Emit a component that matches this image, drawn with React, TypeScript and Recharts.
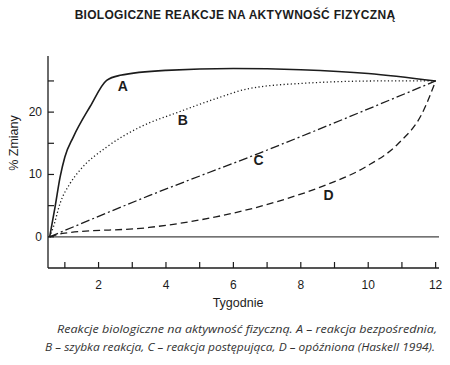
import React from "react";
import { LineChart, Line, XAxis, YAxis, ReferenceLine, ReferenceDot } from "recharts";

const weekTicks = [1, 2, 3, 4, 5, 6, 7, 8, 9, 10, 11, 12];
const weekLabels = [2, 4, 6, 8, 10, 12];
const pctTicks = [0, 5, 10, 15, 20, 25];
const pctLabels = [0, 10, 20];

// A – reakcja bezpośrednia
const curveA = [
  { week: 0.55, pct: 0 },
  { week: 0.71, pct: 4.8 },
  { week: 0.86, pct: 9.6 },
  { week: 1.0, pct: 12.8 },
  { week: 1.25, pct: 16 },
  { week: 1.75, pct: 20.9 },
  { week: 2.24, pct: 25.1 },
  { week: 2.64, pct: 25.9 },
  { week: 4, pct: 26.7 },
  { week: 6, pct: 27 },
  { week: 8, pct: 26.8 },
  { week: 10, pct: 26.2 },
  { week: 12, pct: 25 },
]

// B – szybka reakcja
const curveB = [
  { week: 0.55, pct: 0 },
  { week: 0.66, pct: 1.6 },
  { week: 0.86, pct: 5.4 },
  { week: 1.16, pct: 8.6 },
  { week: 1.45, pct: 10.7 },
  { week: 2.24, pct: 14.4 },
  { week: 3.23, pct: 17.6 },
  { week: 4.42, pct: 20.1 },
  { week: 5.5, pct: 22.2 },
  { week: 6.4, pct: 23.7 },
  { week: 8, pct: 24.6 },
  { week: 10.4, pct: 25 },
  { week: 12, pct: 25 },
]

// C – reakcja postępująca
const curveC = [
  { week: 0.55, pct: 0 },
  { week: 3.5, pct: 6.6 },
  { week: 6.76, pct: 13.4 },
  { week: 12, pct: 25 },
]

// D – opóźniona
const curveD = [
  { week: 0.55, pct: 0 },
  { week: 1, pct: 0.6 },
  { week: 3.5, pct: 1.5 },
  { week: 5.48, pct: 3.2 },
  { week: 7.45, pct: 5.9 },
  { week: 8.74, pct: 8.3 },
  { week: 9.92, pct: 11.2 },
  { week: 10.9, pct: 15 },
  { week: 11.6, pct: 19.8 },
  { week: 12, pct: 25 },
]

const curveTags = [
  { tag: "A", week: 2.72, pct: 24.2 },
  { tag: "B", week: 4.5, pct: 18.7 },
  { tag: "C", week: 6.75, pct: 12.3 },
  { tag: "D", week: 8.82, pct: 6.7 },
]

const captionLines = [
  "Reakcje biologiczne na aktywność fizyczną. A – reakcja bezpośrednia,",
  "B – szybka reakcja, C – reakcja postępująca, D – opóźniona (Haskell 1994).",
]

const INK = "#1c1c1c"
const FONT = "'Liberation Sans', Arial, sans-serif"

function WeekTick({ x, y, payload }: any) {
  const v = payload.value
  return (
    <g>
      <line x1={x} x2={x} y1={y} y2={y - 6} stroke={INK} strokeWidth={1.2} />
      {weekLabels.includes(v) && (
        <text x={x} y={y + 21} textAnchor="middle" fontSize={12} fill={INK} fontFamily={FONT}>
          {v}
        </text>
      )}
    </g>
  )
}

function PctTick({ x, y, payload }: any) {
  const v = payload.value
  return (
    <g>
      <line x1={x} x2={x + 6} y1={y} y2={y} stroke={INK} strokeWidth={1.2} />
      {pctLabels.includes(v) && (
        <text x={x - 6} y={y + 4} textAnchor="end" fontSize={12} fill={INK} fontFamily={FONT}>
          {v}
        </text>
      )}
    </g>
  )
}

export default function App() {
  return (
    <div
      style={{
        position: "absolute",
        left: 0,
        top: 0,
        width: 450,
        height: 365,
        background: "#fff",
        fontFamily: FONT,
        color: INK,
      }}
    >
      <div
        style={{
          position: "absolute",
          left: 0,
          width: 470,
          top: 8,
          textAlign: "center",
          fontWeight: "bold",
          fontSize: 12,
          letterSpacing: 0.3,
          whiteSpace: "nowrap",
        }}
      >
        BIOLOGICZNE REAKCJE NA AKTYWNOŚĆ FIZYCZNĄ
      </div>

      <LineChart width={450} height={365} margin={{ top: 56, right: 11, bottom: 57, left: 0 }}>
        <XAxis
          type="number"
          dataKey="week"
          domain={[0.5, 12.1]}
          ticks={weekTicks}
          interval={0}
          allowDataOverflow
          height={40}
          tickSize={0}
          tickMargin={0}
          tickLine={false}
          tick={<WeekTick />}
          axisLine={{ stroke: INK, strokeWidth: 1.3 }}
        />
        <YAxis
          type="number"
          domain={[-5, 29]}
          ticks={pctTicks}
          interval={0}
          allowDataOverflow
          width={48}
          tickSize={0}
          tickMargin={0}
          tickLine={false}
          tick={<PctTick />}
          axisLine={{ stroke: INK, strokeWidth: 1.3 }}
        />
        <ReferenceLine y={0} stroke="#444" strokeWidth={1.2} />
        <Line data={curveA} dataKey="pct" type="monotone" stroke={INK} strokeWidth={1.6} dot={false} isAnimationActive={false} />
        <Line data={curveB} dataKey="pct" type="monotone" stroke={INK} strokeWidth={1.3} strokeDasharray="1.2 2.4" dot={false} isAnimationActive={false} />
        <Line data={curveC} dataKey="pct" type="monotone" stroke={INK} strokeWidth={1.3} strokeDasharray="9 3 2 3" dot={false} isAnimationActive={false} />
        <Line data={curveD} dataKey="pct" type="monotone" stroke={INK} strokeWidth={1.3} strokeDasharray="7 4" dot={false} isAnimationActive={false} />
        {curveTags.map((t) => (
          <ReferenceDot
            key={t.tag}
            x={t.week}
            y={t.pct}
            r={0}
            shape={(p: any) => (
              <text x={p.cx} y={p.cy + 5} textAnchor="middle" fontSize={14} fontWeight="bold" fill={INK} fontFamily={FONT}>
                {t.tag}
              </text>
            )}
          />
        ))}
      </LineChart>

      <div
        style={{
          position: "absolute",
          left: 14,
          top: 143,
          fontSize: 12.5,
          whiteSpace: "nowrap",
          transform: "translate(-50%, -50%) rotate(-90deg)",
        }}
      >
        % Zmiany
      </div>
      <div
        style={{
          position: "absolute",
          left: 238,
          top: 303,
          fontSize: 12.5,
          whiteSpace: "nowrap",
          transform: "translate(-50%, -50%)",
        }}
      >
        Tygodnie
      </div>

      {/* podpis rysunku */}
      <svg width={450} height={40} style={{ position: "absolute", left: 0, top: 318 }}>
        <text
          x={57}
          y={15}
          textLength={380}
          lengthAdjust="spacingAndGlyphs"
          fontFamily="'Open Sans', Lato, sans-serif"
          fontStyle="italic"
          fontSize={11.5}
          fill="#333"
        >
          {captionLines[0]}
        </text>
        <text
          x={45}
          y={33}
          textLength={390}
          lengthAdjust="spacingAndGlyphs"
          fontFamily="'Open Sans', Lato, sans-serif"
          fontStyle="italic"
          fontSize={11.5}
          fill="#333"
        >
          {captionLines[1]}
        </text>
      </svg>
    </div>
  )
}
